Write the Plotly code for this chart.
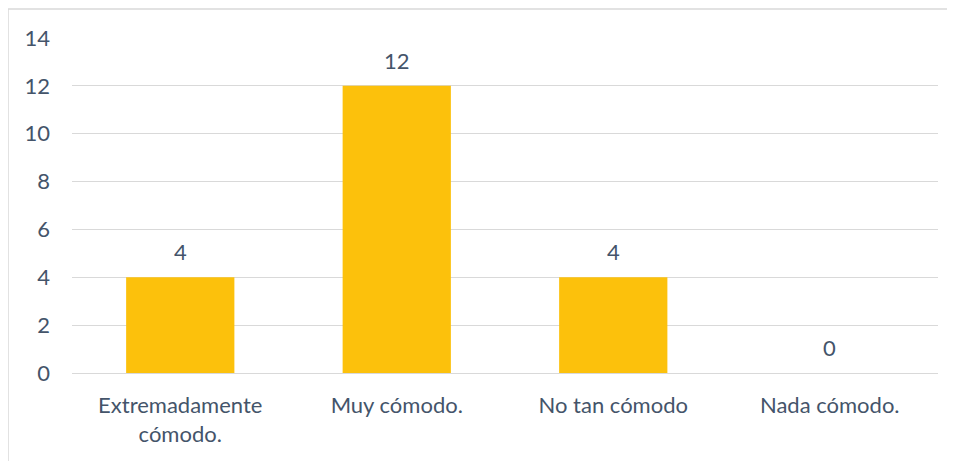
import plotly.graph_objects as go

categories = ["Extremadamente<br>cómodo.", "Muy cómodo.", "No tan cómodo", "Nada cómodo."]
values = [4, 12, 4, 0]
y_ticks = [0, 2, 4, 6, 8, 10, 12, 14]

text_color = "#44546A"
font_family = "Lato, Open Sans, sans-serif"
fsize = 22

fig = go.Figure(
    go.Bar(
        x=categories,
        y=values,
        marker=dict(color="#FCC10C", line=dict(width=0)),
        hoverinfo="x+y",
    )
)

# data labels placed from the data values
for c, v in zip(categories, values):
    fig.add_annotation(
        x=c, y=v, text=str(v), showarrow=False,
        yanchor="bottom", yshift=10,
        font=dict(size=fsize, color=text_color, family=font_family),
    )

fig.update_layout(
    width=947,
    height=453,
    margin=dict(l=64, r=17, t=30, b=88),
    paper_bgcolor="white",
    plot_bgcolor="white",
    bargap=0.5,
    showlegend=False,
    font=dict(family=font_family, size=fsize, color=text_color),
    shapes=[
        dict(type="line", xref="paper", yref="paper",
             x0=-0.0739, x1=1.1, y0=1.0866, y1=1.0866,
             line=dict(color="#D9D9D9", width=1.5)),
        dict(type="line", xref="paper", yref="paper",
             x0=-0.0739, x1=-0.0739, y0=1.0866, y1=-0.3,
             line=dict(color="#D9D9D9", width=1.5)),
    ],
)

fig.update_yaxes(
    range=[0, 14],
    tickvals=y_ticks,
    showgrid=True,
    gridcolor="#D9D9D9",
    gridwidth=1,
    zeroline=True,
    zerolinecolor="#D9D9D9",
    zerolinewidth=1,
    showline=False,
    ticks="",
    ticklabelstandoff=21,
    tickfont=dict(size=fsize, color=text_color),
)
fig.update_xaxes(
    showline=False,
    showgrid=False,
    ticks="",
    ticklabelstandoff=17,
    tickfont=dict(size=fsize, color=text_color),
)

fig.write_html("out.html")
